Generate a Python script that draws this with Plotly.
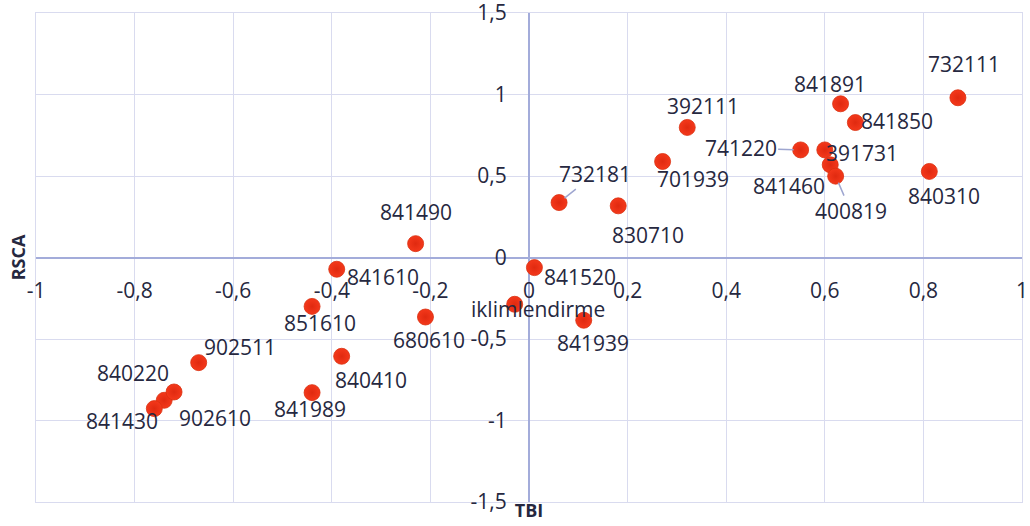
import plotly.graph_objects as go

# ---- data ----
codes = ["732111", "841891", "841850", "392111", "741220", "391731", "841460",
         "400819", "701939", "840310", "732181", "830710", "841490", "841610",
         "851610", "680610", "902511", "840220", "902610", "841430", "841989",
         "840410", "841520", "iklimlendirme", "841939"]
tbi = [0.870, 0.632, 0.662, 0.321, 0.551, 0.600, 0.611,
       0.622, 0.271, 0.812, 0.061, 0.181, -0.230, -0.390,
       -0.440, -0.210, -0.670, -0.740, -0.720, -0.760, -0.440,
       -0.380, 0.011, -0.029, 0.111]
rsca = [0.980, 0.943, 0.828, 0.798, 0.660, 0.660, 0.569,
        0.499, 0.589, 0.528, 0.337, 0.317, 0.085, -0.072,
        -0.300, -0.365, -0.645, -0.876, -0.825, -0.927, -0.829,
        -0.606, -0.062, -0.287, -0.385]

x_tickvals = [-1, -0.8, -0.6, -0.4, -0.2, 0, 0.2, 0.4, 0.6, 0.8, 1]
x_ticktext = ["-1", "-0,8", "-0,6", "-0,4", "-0,2", "0", "0,2", "0,4", "0,6", "0,8", "1"]
y_tickvals = [-1.5, -1, -0.5, 0, 0.5, 1, 1.5]
y_ticktext = ["-1,5", "-1", "-0,5", "0", "0,5", "1", "1,5"]

x_title = "TBI"
y_title = "RSCA"

# ---- label placement (pixel offsets from each point; leader line flag) ----
label_offsets = {
    "732111": (6, -34, False), "841891": (-11, -20, False), "841850": (42, -2, False),
    "392111": (16, -21, False), "741220": (-60, -2, True), "391731": (37, 3, False),
    "841460": (-41, 21, False), "400819": (15, 35, True), "701939": (30, 18, False),
    "840310": (15, 25, False), "732181": (36, -29, True), "830710": (30, 29, False),
    "841490": (0, -32, False), "841610": (46, 8, False), "851610": (8, 17, False),
    "680610": (4, 23, False), "902511": (41, -16, False), "840220": (-31, -27, False),
    "902610": (41, 26, False), "841430": (-32, 12, False), "841989": (-2, 16, False),
    "840410": (29, 24, False), "841520": (46, 9, False), "iklimlendirme": (23, 5, False),
    "841939": (9, 23, False),
}

FONT = "Open Sans"
TXT = "#262840"
GRID = "#D9DBEF"
ZERO = "#A3ACDA"
MARK = "#F4381B"
FS = 21

fig = go.Figure()
fig.add_trace(go.Scatter(
    x=tbi, y=rsca, mode="markers", text=codes, showlegend=False,
    marker=dict(size=16, color=MARK, line=dict(color="#D9300F", width=0.8),
                gradient=dict(type="radial", color="#E02A10")),
    hovertemplate="%{text}<br>TBI=%{x}<br>RSCA=%{y}<extra></extra>",
))
# dummy trace so the overlay axes (tick labels at the zero lines) are drawn
fig.add_trace(go.Scatter(x=[None], y=[None], xaxis="x2", yaxis="y2",
                         showlegend=False, hoverinfo="skip"))

annotations = []
for c, xv, yv in zip(codes, tbi, rsca):
    dx, dy, leader = label_offsets[c]
    annotations.append(dict(
        x=xv, y=yv, xref="x", yref="y", text=c, showarrow=True,
        ax=dx, ay=dy, arrowhead=0, arrowwidth=1.5, standoff=7,
        arrowcolor="#9EA6D0" if leader else "rgba(0,0,0,0)",
        font=dict(family=FONT, size=FS, color=TXT),
    ))

fig.update_layout(
    width=1030, height=526,
    margin=dict(l=36, r=8, t=13, b=24, autoexpand=False),
    paper_bgcolor="white", plot_bgcolor="white",
    font=dict(family=FONT, size=FS, color=TXT),
    xaxis=dict(range=[-1, 1], tickvals=x_tickvals, showticklabels=False,
               showgrid=True, gridcolor=GRID, gridwidth=1.3,
               zeroline=True, zerolinecolor=ZERO, zerolinewidth=1.8,
               showline=True, mirror=True, linecolor=GRID, linewidth=1.3,
               automargin=False,
               title=dict(text="<b>" + x_title + "</b>", standoff=2,
                          font=dict(family=FONT, size=18, color=TXT))),
    yaxis=dict(range=[-1.5, 1.5], tickvals=y_tickvals, showticklabels=False,
               showgrid=True, gridcolor=GRID, gridwidth=1.3,
               zeroline=True, zerolinecolor=ZERO, zerolinewidth=1.8,
               showline=True, mirror=True, linecolor=GRID, linewidth=1.3,
               automargin=False,
               title=dict(text="<b>" + y_title + "</b>", standoff=4,
                          font=dict(family=FONT, size=18, color=TXT))),
    xaxis2=dict(range=[-1, 1], overlaying="x", anchor="free", position=0.5,
                side="bottom", tickvals=x_tickvals, ticktext=x_ticktext,
                showgrid=False, zeroline=False, showline=False,
                ticks="outside", ticklen=14, tickcolor="rgba(0,0,0,0)",
                ticklabeloverflow="allow", automargin=False,
                tickfont=dict(family=FONT, size=FS, color=TXT)),
    yaxis2=dict(range=[-1.5, 1.5], overlaying="y", anchor="free", position=0.5,
                side="left", tickvals=y_tickvals, ticktext=y_ticktext,
                showgrid=False, zeroline=False, showline=False,
                ticks="outside", ticklen=18, tickcolor="rgba(0,0,0,0)",
                ticklabeloverflow="allow", automargin=False,
                tickfont=dict(family=FONT, size=FS, color=TXT)),
    annotations=annotations,
)

fig.write_html(
    "out.html",
    config={"displayModeBar": False},
    post_script="document.body.style.margin='0';document.body.style.overflow='hidden';",
)
